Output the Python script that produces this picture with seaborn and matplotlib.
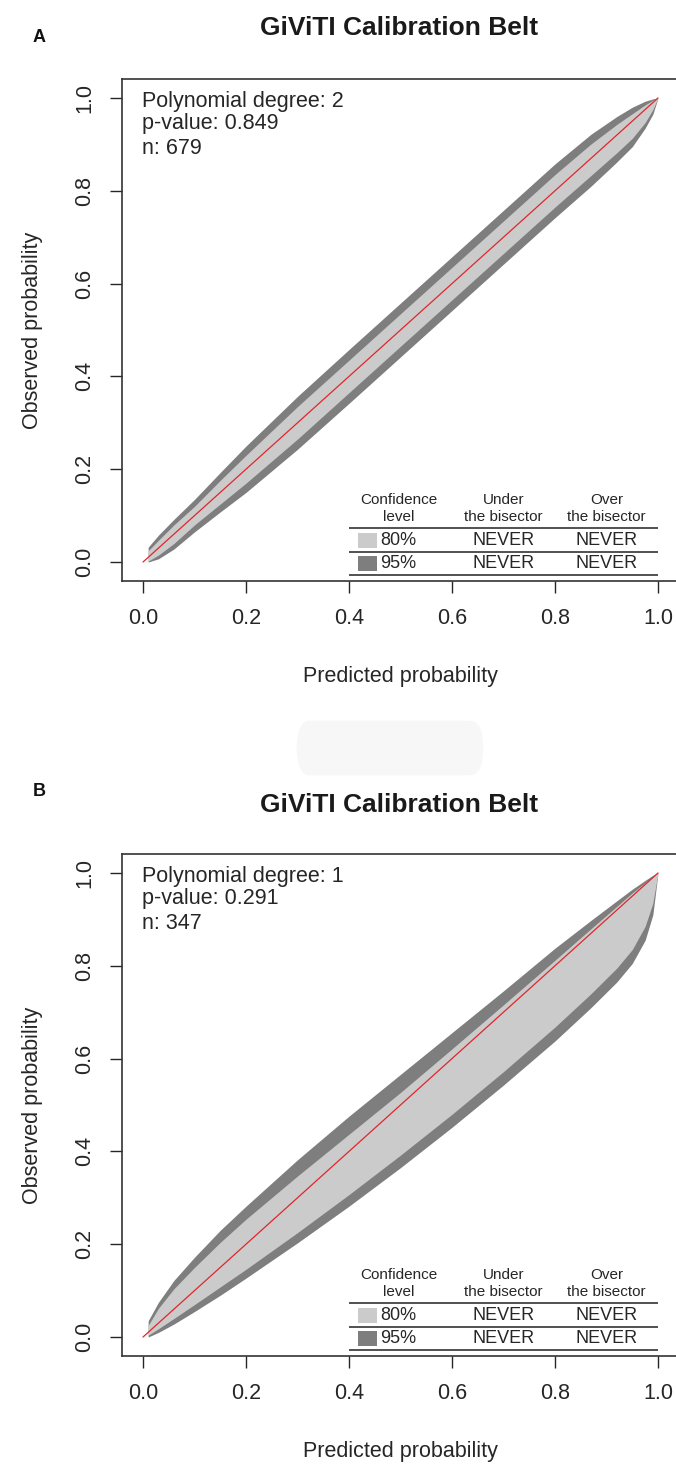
import numpy as np
import pandas as pd
import matplotlib
matplotlib.use("Agg")
import matplotlib.pyplot as plt
from matplotlib.patches import Rectangle, FancyBboxPatch
import seaborn as sns

sns.set_theme(style="white")
plt.rcParams["font.family"] = ["Liberation Sans", "DejaVu Sans"]

# ---------------- data ----------------
tick_values = [0.0, 0.2, 0.4, 0.6, 0.8, 1.0]
tick_labels = ["0.0", "0.2", "0.4", "0.6", "0.8", "1.0"]
bisector = [0.0, 1.0]

pred = [0.01, 0.03, 0.06, 0.1, 0.15, 0.2, 0.3, 0.4, 0.5, 0.6, 0.7, 0.8,
        0.87, 0.92, 0.95, 0.975, 0.99, 1.0]

# Panel A (degree 2)
a_hi95 = [0.032, 0.058, 0.092, 0.135, 0.193, 0.250, 0.357, 0.458, 0.558, 0.658,
          0.758, 0.858, 0.922, 0.960, 0.980, 0.993, 0.998, 1.0]
a_hi80 = [0.024, 0.047, 0.080, 0.120, 0.176, 0.230, 0.335, 0.435, 0.535, 0.635,
          0.735, 0.835, 0.901, 0.943, 0.966, 0.985, 0.995, 1.0]
a_lo80 = [0.002, 0.015, 0.040, 0.080, 0.125, 0.170, 0.265, 0.365, 0.465, 0.565,
          0.665, 0.765, 0.833, 0.882, 0.913, 0.947, 0.975, 1.0]
a_lo95 = [0.000, 0.007, 0.028, 0.065, 0.108, 0.150, 0.243, 0.342, 0.442, 0.542,
          0.642, 0.742, 0.810, 0.862, 0.895, 0.935, 0.965, 1.0]

# Panel B (degree 1)
b_hi95 = [0.035, 0.075, 0.122, 0.172, 0.230, 0.282, 0.382, 0.476, 0.566, 0.656,
          0.746, 0.838, 0.898, 0.940, 0.965, 0.984, 0.995, 1.0]
b_hi80 = [0.025, 0.062, 0.104, 0.150, 0.204, 0.254, 0.347, 0.437, 0.527, 0.621,
          0.716, 0.812, 0.880, 0.928, 0.957, 0.979, 0.992, 1.0]
b_lo80 = [0.004, 0.018, 0.040, 0.070, 0.108, 0.146, 0.225, 0.307, 0.392, 0.480,
          0.572, 0.668, 0.740, 0.795, 0.835, 0.885, 0.935, 1.0]
b_lo95 = [0.000, 0.010, 0.028, 0.055, 0.090, 0.127, 0.203, 0.282, 0.365, 0.452,
          0.543, 0.638, 0.710, 0.765, 0.805, 0.855, 0.910, 1.0]

panel_letters = ["A", "B"]
degrees = [2, 1]
p_values = ["0.849", "0.291"]
n_values = [679, 347]
conf_levels = ["80%", "95%"]
under_bisector = ["NEVER", "NEVER"]
over_bisector = ["NEVER", "NEVER"]

LIGHT = "#cbcbcb"
DARK = "#7e7e7e"
RED = "#e0262c"
INK = "#262626"

W, H = 676, 1465
fig = plt.figure(figsize=(W / 100, H / 100), dpi=100)

# axes geometry in pixels
x_left, x_right = 122.4, 678.6
panels_px = [(79.4, 580.6), (854.4, 1355.6)]
title_y = [28, 805]
letter_y = [38, 792]

belts = [(a_lo95, a_lo80, a_hi80, a_hi95), (b_lo95, b_lo80, b_hi80, b_hi95)]

for i, (top, bot) in enumerate(panels_px):
    ax = fig.add_axes([x_left / W, 1 - bot / H, (x_right - x_left) / W, (bot - top) / H])
    lo95, lo80, hi80, hi95 = belts[i]
    ax.fill_between(pred, lo95, hi95, color=DARK, lw=0)
    ax.fill_between(pred, lo80, hi80, color=LIGHT, lw=0)
    df = pd.DataFrame({"x": bisector, "y": bisector})
    sns.lineplot(data=df, x="x", y="y", color=RED, lw=0.9, ax=ax)

    ax.set_xlim(-0.04, 1.04)
    ax.set_ylim(-0.04, 1.04)
    ax.set_xticks(tick_values)
    ax.set_xticklabels(tick_labels)
    ax.set_yticks(tick_values)
    ax.set_yticklabels(tick_labels, rotation=90, va="center")
    ax.tick_params(axis="both", direction="out", length=8.6, width=1.0,
                   color=INK, labelcolor=INK, labelsize=15.5, pad=11)
    ax.tick_params(left=True, bottom=True)
    for s in ax.spines.values():
        s.set_color("#333333")
        s.set_linewidth(1.2)
        s.set_visible(True)

    ax.set_xlabel("Predicted probability", fontsize=15.5, color=INK)
    ax.set_ylabel("Observed probability", fontsize=15.5, color=INK)
    ax.xaxis.set_label_coords(0.5, -85.0 / (bot - top))
    ax.yaxis.set_label_coords((43 - x_left) / (x_right - x_left), 0.5)

    # info text
    info = [f"Polynomial degree: {degrees[i]}", f"p-value: {p_values[i]}", f"n: {n_values[i]}"]
    for k, (t, yy) in enumerate(zip(info, [0.993, 0.945, 0.892])):
        ax.text(-0.002, yy, t, ha="left", va="center", fontsize=15.5, color=INK)

    # table
    for yy in [0.073, 0.022, -0.027]:
        ax.plot([0.4, 1.0], [yy, yy], color="#333333", lw=1.2, solid_capstyle="butt")
    hdr = [(0.497, "Confidence", "level"), (0.70, "Under", "the bisector"),
           (0.90, "Over", "the bisector")]
    for xx, l1, l2 in hdr:
        ax.text(xx, 0.134, l1, ha="center", va="center", fontsize=11, color=INK)
        ax.text(xx, 0.097, l2, ha="center", va="center", fontsize=11, color=INK)
    row_y = [0.047, -0.003]
    cols = [LIGHT, DARK]
    for r in range(2):
        ax.add_patch(Rectangle((0.418, row_y[r] - 0.017), 0.037, 0.033,
                               color=cols[r], lw=0))
        ax.text(0.46, row_y[r], conf_levels[r], ha="left", va="center",
                fontsize=13, color=INK)
        ax.text(0.70, row_y[r], under_bisector[r], ha="center", va="center",
                fontsize=13, color=INK)
        ax.text(0.90, row_y[r], over_bisector[r], ha="center", va="center",
                fontsize=13, color=INK)

    fig.text(399 / W, 1 - title_y[i] / H, "GiViTI Calibration Belt", ha="center",
             va="center", fontsize=19, fontweight="bold", color="#1a1a1a")
    fig.text(39 / W, 1 - letter_y[i] / H, panel_letters[i], ha="center",
             va="center", fontsize=13, fontweight="bold", color="#111111")

# faint artefact between panels
fig.patches.append(FancyBboxPatch((300 / W, 1 - 768 / H), 180 / W, 40 / H,
                                  boxstyle="round,pad=0.005,rounding_size=0.02",
                                  transform=fig.transFigure, color="#f7f7f7",
                                  lw=0, zorder=-1))

fig.savefig("out.png", dpi=100, facecolor="white")
